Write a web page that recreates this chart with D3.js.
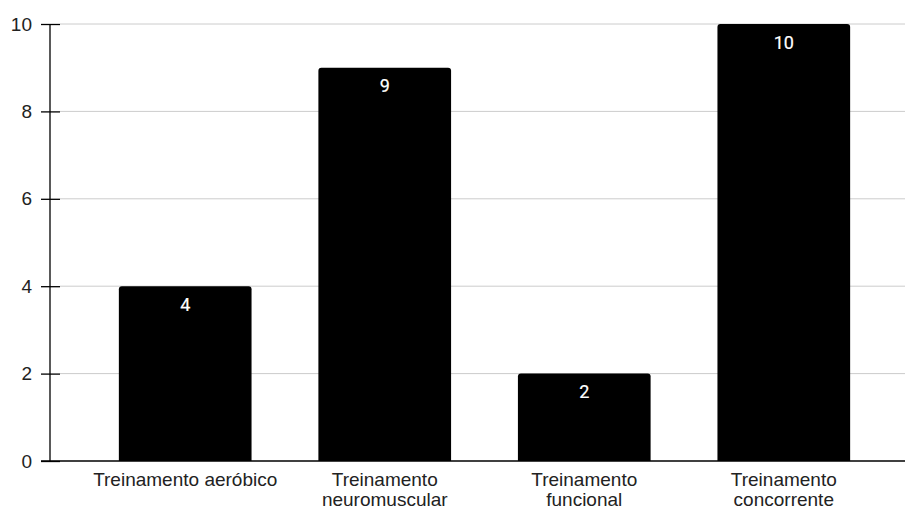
<!DOCTYPE html>
<html>
<head>
<meta charset="utf-8">
<script src="https://cdn.jsdelivr.net/npm/d3@7"></script>
<style>
  html, body { margin: 0; padding: 0; background: #fff; }
  svg { display: block; }
</style>
</head>
<body>
<svg id="chart" width="905" height="508"></svg>
<script>
// Categories, values and tick labels
const categories = [
  ["Treinamento aeróbico"],
  ["Treinamento", "neuromuscular"],
  ["Treinamento", "funcional"],
  ["Treinamento", "concorrente"]
];
const values = [4, 9, 2, 10];
const yTicks = [0, 2, 4, 6, 8, 10];

const svg = d3.select("#chart");
const W = 905, H = 508;
const axisX = 50, gridStart = 60;
const yTop = 24, yBottom = 461;

const x = d3.scaleBand()
  .domain(d3.range(values.length))
  .range([59, 910])
  .paddingInner(0.335)
  .paddingOuter(0.3);

const y = d3.scaleLinear().domain([0, 10]).range([yBottom, yTop]);

// Horizontal gridlines
svg.append("g")
  .selectAll("line")
  .data(yTicks.filter(t => t > 0))
  .join("line")
  .attr("x1", gridStart).attr("x2", W)
  .attr("y1", d => y(d)).attr("y2", d => y(d))
  .attr("stroke", "#cccccc").attr("stroke-width", 1);

// Y axis with ticks crossing the axis line
const yAxis = svg.append("g")
  .attr("transform", `translate(${axisX},0)`)
  .call(d3.axisLeft(y).tickValues(yTicks).tickSize(9).tickPadding(9).tickSizeOuter(0));
yAxis.select(".domain").attr("stroke", "#000").attr("stroke-width", 1.3);
yAxis.selectAll(".tick line")
  .attr("x1", -9).attr("x2", 10)
  .attr("stroke", "#000").attr("stroke-width", 1.3);
yAxis.selectAll(".tick text")
  .attr("font-family", "Liberation Sans, Arial, sans-serif")
  .attr("font-size", 19).attr("fill", "#222");
yAxis.select(".domain").attr("d", `M0,${yTop}V${yBottom}`);

// Bars with rounded top corners
const r = 3;
function barPath(i, v) {
  const x0 = x(i), x1 = x(i) + x.bandwidth();
  const yt = y(v), yb = y(0);
  return `M${x0},${yb}V${yt + r}Q${x0},${yt} ${x0 + r},${yt}H${x1 - r}Q${x1},${yt} ${x1},${yt + r}V${yb}Z`;
}
svg.append("g")
  .selectAll("path")
  .data(values)
  .join("path")
  .attr("d", (d, i) => barPath(i, d))
  .attr("fill", "#000");

// Baseline
svg.append("line")
  .attr("x1", 41).attr("x2", W)
  .attr("y1", y(0)).attr("y2", y(0))
  .attr("stroke", "#000").attr("stroke-width", 1.3);

// Value labels inside bars
svg.append("g")
  .selectAll("text")
  .data(values)
  .join("text")
  .attr("x", (d, i) => x(i) + x.bandwidth() / 2)
  .attr("y", d => y(d) + 24.5)
  .attr("text-anchor", "middle")
  .attr("font-family", "Roboto, sans-serif")
  .attr("font-weight", 400)
  .attr("font-size", 18)
  .attr("fill", "#fff")
  .attr("stroke", "#fff")
  .attr("stroke-width", 0.2)
  .text(d => d);

// Category labels
const catG = svg.append("g");
categories.forEach((lines, i) => {
  const t = catG.append("text")
    .attr("x", x(i) + x.bandwidth() / 2)
    .attr("y", 486)
    .attr("text-anchor", "middle")
    .attr("font-family", "Liberation Sans, Arial, sans-serif")
    .attr("font-size", 19)
    .attr("fill", "#222");
  lines.forEach((ln, j) => {
    t.append("tspan")
      .attr("x", x(i) + x.bandwidth() / 2)
      .attr("dy", j === 0 ? 0 : 19.5)
      .text(ln);
  });
});
</script>
</body>
</html>
